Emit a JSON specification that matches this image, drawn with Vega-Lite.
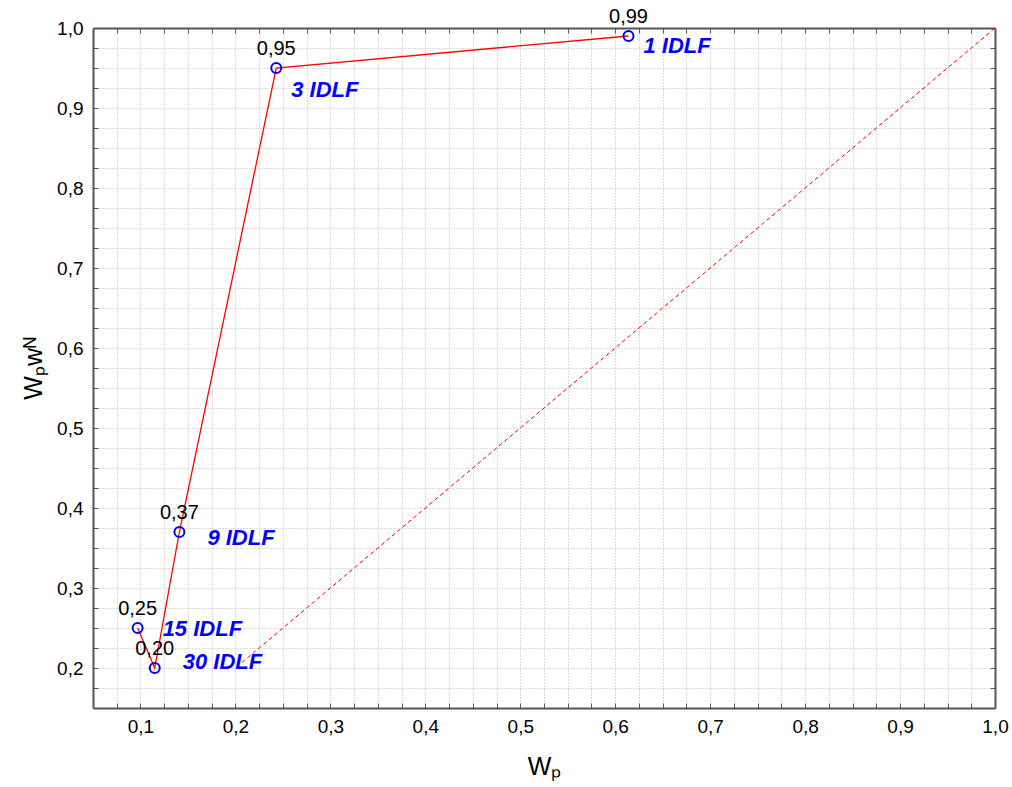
{
  "$schema": "https://vega.github.io/schema/vega-lite/v6.json",
  "width": 902,
  "height": 680,
  "autosize": "none",
  "padding": {"left": 93, "top": 28, "right": 17, "bottom": 79},
  "background": "white",
  "config": {
    "view": {"stroke": null},
    "font": "Liberation Sans",
    "locale": {"number": {"decimal": ",", "thousands": ".", "grouping": [3], "currency": ["", ""]}}
  },
  "datasets": {
    "pts": [
      {"lbl": "1 IDLF", "ord": 5, "wp": 0.614, "wpw": 0.99},
      {"lbl": "3 IDLF", "ord": 4, "wp": 0.243, "wpw": 0.95},
      {"lbl": "9 IDLF", "ord": 3, "wp": 0.141, "wpw": 0.37},
      {"lbl": "15 IDLF", "ord": 1, "wp": 0.097, "wpw": 0.25},
      {"lbl": "30 IDLF", "ord": 2, "wp": 0.115, "wpw": 0.20}
    ],
    "diag": [
      {"wp": 0.207, "wpw": 0.207},
      {"wp": 1.0, "wpw": 1.0}
    ]
  },
  "resolve": {"axis": {"x": "independent", "y": "independent"}},
  "layer": [
    {
      "data": {"name": "diag"},
      "mark": {"type": "line", "color": "#ff0000", "strokeWidth": 1, "strokeDash": [4, 3]},
      "encoding": {
        "x": {"field": "wp", "type": "quantitative", "scale": {"domain": [0.05, 1.0], "nice": false, "zero": false},
          "axis": {"orient": "bottom", "title": "Wₚ", "titleFontSize": 25, "titleFontWeight": "normal", "titleColor": "#000", "titlePadding": 18,
            "values": [0.05,0.075,0.1,0.125,0.15,0.175,0.2,0.225,0.25,0.275,0.3,0.325,0.35,0.375,0.4,0.425,0.45,0.475,0.5,0.525,0.55,0.575,0.6,0.625,0.65,0.675,0.7,0.725,0.75,0.775,0.8,0.825,0.85,0.875,0.9,0.925,0.95,0.975,1.0],
            "labelExpr": "abs(datum.value*10 - round(datum.value*10)) < 0.001 ? replace(format(datum.value, '.1f'), '.', ',') : ''",
            "labelOverlap": false, "labelFlush": false, "labelFontSize": 19, "labelColor": "#000", "labelPadding": 14,
            "grid": true, "gridColor": "#b8b8b8", "gridDash": [1, 2], "gridWidth": 1,
            "domainColor": "#555", "domainWidth": 2, "tickColor": "#555", "tickSize": -5, "tickWidth": 1}},
        "y": {"field": "wpw", "type": "quantitative", "scale": {"domain": [0.15, 1.0], "nice": false, "zero": false},
          "axis": {"orient": "left", "title": "Wₚwᴺ", "titleFontSize": 25, "titleFontWeight": "normal", "titleColor": "#000", "titlePadding": 10,
            "values": [0.15,0.175,0.2,0.225,0.25,0.275,0.3,0.325,0.35,0.375,0.4,0.425,0.45,0.475,0.5,0.525,0.55,0.575,0.6,0.625,0.65,0.675,0.7,0.725,0.75,0.775,0.8,0.825,0.85,0.875,0.9,0.925,0.95,0.975,1.0],
            "labelExpr": "abs(datum.value*10 - round(datum.value*10)) < 0.001 ? replace(format(datum.value, '.1f'), '.', ',') : ''",
            "labelOverlap": false, "labelFlush": false, "labelFontSize": 19, "labelColor": "#000", "labelPadding": 15,
            "grid": true, "gridColor": "#b8b8b8", "gridDash": [1, 2], "gridWidth": 1,
            "domainColor": "#555", "domainWidth": 2, "tickColor": "#555", "tickSize": -5, "tickWidth": 1}}
      }
    },
    {
      "data": {"name": "pts"},
      "mark": {"type": "line", "color": "#ff0000", "strokeWidth": 1.3},
      "encoding": {
        "x": {"field": "wp", "type": "quantitative",
          "axis": {"orient": "top", "title": null, "labels": false, "grid": false,
            "values": [0.05,0.075,0.1,0.125,0.15,0.175,0.2,0.225,0.25,0.275,0.3,0.325,0.35,0.375,0.4,0.425,0.45,0.475,0.5,0.525,0.55,0.575,0.6,0.625,0.65,0.675,0.7,0.725,0.75,0.775,0.8,0.825,0.85,0.875,0.9,0.925,0.95,0.975,1.0],
            "domainColor": "#555", "domainWidth": 2, "tickColor": "#555", "tickSize": -5, "tickWidth": 1}},
        "y": {"field": "wpw", "type": "quantitative",
          "axis": {"orient": "right", "title": null, "labels": false, "grid": false,
            "values": [0.15,0.175,0.2,0.225,0.25,0.275,0.3,0.325,0.35,0.375,0.4,0.425,0.45,0.475,0.5,0.525,0.55,0.575,0.6,0.625,0.65,0.675,0.7,0.725,0.75,0.775,0.8,0.825,0.85,0.875,0.9,0.925,0.95,0.975,1.0],
            "domainColor": "#555", "domainWidth": 2, "tickColor": "#555", "tickSize": -5, "tickWidth": 1}},
        "order": {"field": "ord", "type": "quantitative"}
      }
    },
    {
      "data": {"name": "pts"},
      "mark": {"type": "point", "shape": "circle", "filled": false, "color": "#0000ff", "strokeWidth": 2, "size": 100, "opacity": 1},
      "encoding": {
        "x": {"field": "wp", "type": "quantitative", "axis": null},
        "y": {"field": "wpw", "type": "quantitative", "axis": null}
      }
    },
    {
      "data": {"name": "pts"},
      "mark": {"type": "text", "fontSize": 20, "color": "#000", "dy": -19, "baseline": "middle", "align": "center"},
      "encoding": {
        "x": {"field": "wp", "type": "quantitative", "axis": null},
        "y": {"field": "wpw", "type": "quantitative", "axis": null},
        "text": {"field": "wpw", "type": "quantitative", "format": ".2f"}
      }
    },
    {
      "data": {"name": "pts"},
      "transform": [{"filter": "datum.lbl === '1 IDLF'"}],
      "mark": {"type": "text", "fontSize": 22, "fontWeight": "bold", "fontStyle": "italic", "color": "#0000ff", "align": "left", "baseline": "middle", "dx": 15, "dy": 10},
      "encoding": {
        "x": {"field": "wp", "type": "quantitative", "axis": null},
        "y": {"field": "wpw", "type": "quantitative", "axis": null},
        "text": {"field": "lbl"}
      }
    },
    {
      "data": {"name": "pts"},
      "transform": [{"filter": "datum.lbl === '3 IDLF'"}],
      "mark": {"type": "text", "fontSize": 22, "fontWeight": "bold", "fontStyle": "italic", "color": "#0000ff", "align": "left", "baseline": "middle", "dx": 15, "dy": 22},
      "encoding": {
        "x": {"field": "wp", "type": "quantitative", "axis": null},
        "y": {"field": "wpw", "type": "quantitative", "axis": null},
        "text": {"field": "lbl"}
      }
    },
    {
      "data": {"name": "pts"},
      "transform": [{"filter": "datum.lbl === '9 IDLF'"}],
      "mark": {"type": "text", "fontSize": 22, "fontWeight": "bold", "fontStyle": "italic", "color": "#0000ff", "align": "left", "baseline": "middle", "dx": 28, "dy": 6},
      "encoding": {
        "x": {"field": "wp", "type": "quantitative", "axis": null},
        "y": {"field": "wpw", "type": "quantitative", "axis": null},
        "text": {"field": "lbl"}
      }
    },
    {
      "data": {"name": "pts"},
      "transform": [{"filter": "datum.lbl === '15 IDLF'"}],
      "mark": {"type": "text", "fontSize": 22, "fontWeight": "bold", "fontStyle": "italic", "color": "#0000ff", "align": "left", "baseline": "middle", "dx": 25, "dy": 1},
      "encoding": {
        "x": {"field": "wp", "type": "quantitative", "axis": null},
        "y": {"field": "wpw", "type": "quantitative", "axis": null},
        "text": {"field": "lbl"}
      }
    },
    {
      "data": {"name": "pts"},
      "transform": [{"filter": "datum.lbl === '30 IDLF'"}],
      "mark": {"type": "text", "fontSize": 22, "fontWeight": "bold", "fontStyle": "italic", "color": "#0000ff", "align": "left", "baseline": "middle", "dx": 28, "dy": -6},
      "encoding": {
        "x": {"field": "wp", "type": "quantitative", "axis": null},
        "y": {"field": "wpw", "type": "quantitative", "axis": null},
        "text": {"field": "lbl"}
      }
    }
  ]
}
